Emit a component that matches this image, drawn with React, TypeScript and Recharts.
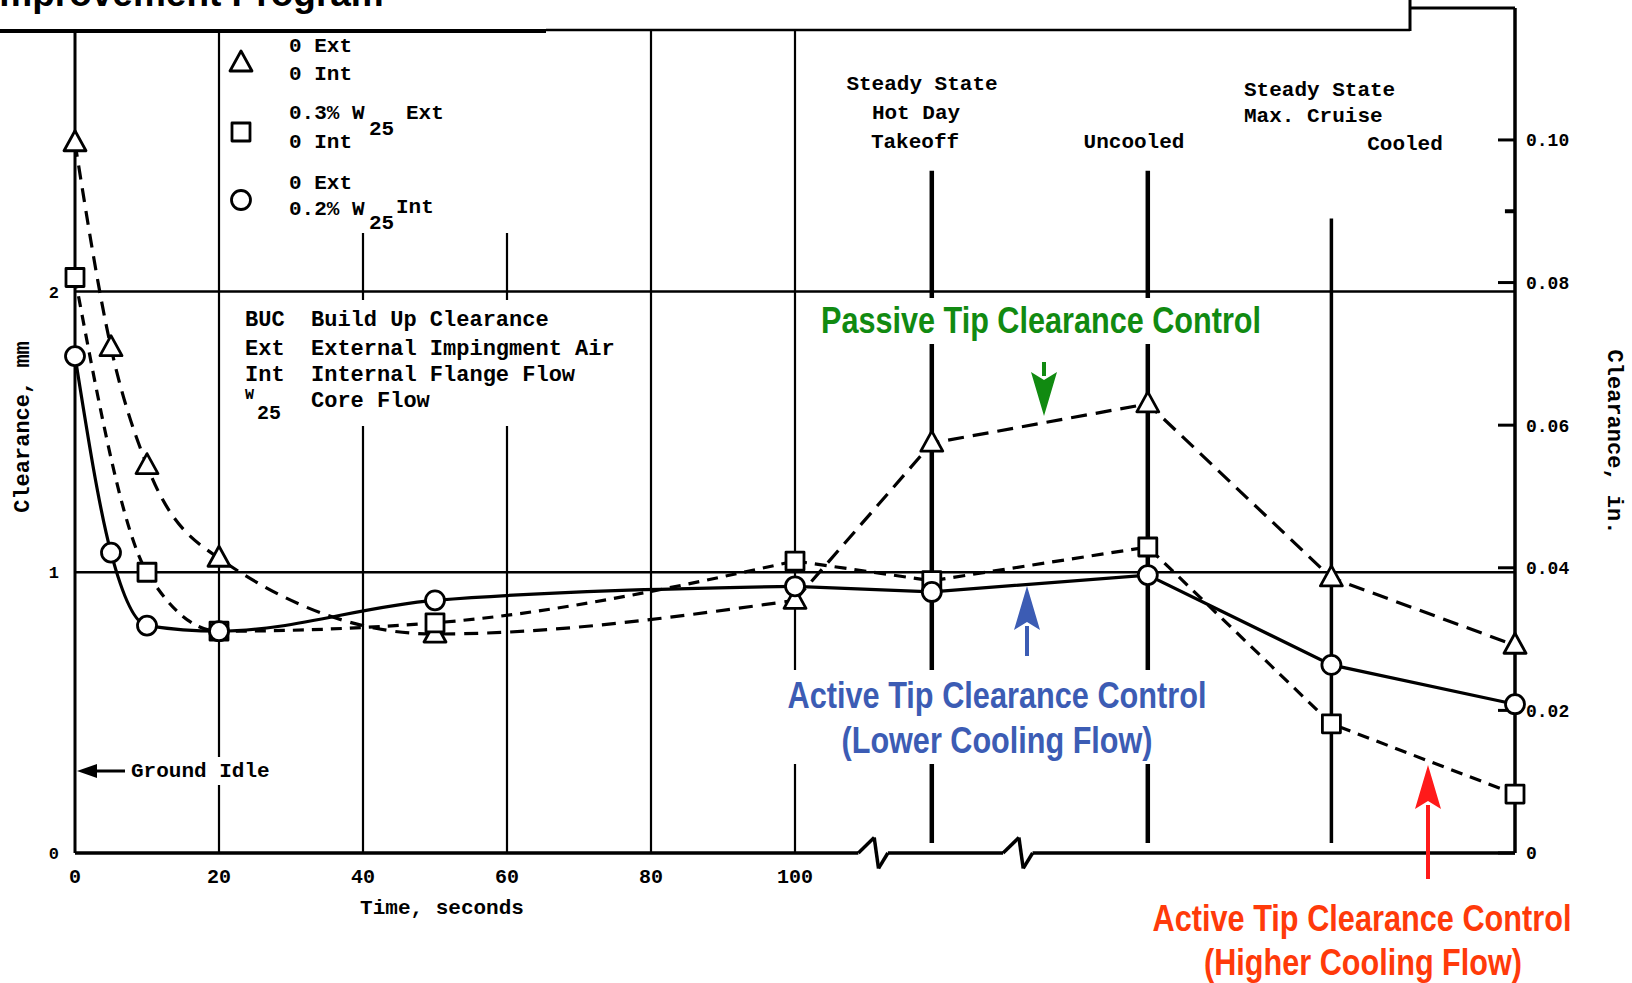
import React from 'react'
import { LineChart, Line, XAxis, YAxis, ReferenceLine } from 'recharts'

// time axis (seconds); the steady-state stations sit after the axis break
const TIME_TICKS = [0, 20, 40, 60, 80, 100]
const STATION_POS = [119, 149, 174.5, 200]

const MM_TICKS = [0, 1, 2]
const IN_TICKS = [0, 0.02, 0.04, 0.06, 0.08, 0.1]

// triangle: 0 Ext / 0 Int
const TRI_TIME = [0, 5, 10, 20, 50, 100]
const TRI_MM = [2.53, 1.8, 1.38, 1.05, 0.78, 0.9]
const TRI_STATION_MM = [1.46, 1.6, 0.98, 0.74]

// square: 0.3% W25 Ext / 0 Int
const SQ_TIME = [0, 10, 20, 50, 100]
const SQ_MM = [2.05, 1.0, 0.79, 0.82, 1.04]
const SQ_STATION_MM = [0.97, 1.09, 0.46, 0.21]

// circle: 0 Ext / 0.2% W25 Int
const CIR_TIME = [0, 5, 10, 20, 50, 100]
const CIR_MM = [1.77, 1.07, 0.81, 0.79, 0.9, 0.95]
const CIR_STATION_MM = [0.93, 0.99, 0.67, 0.53]

const W = 1632
const H = 983
const Y_MAX = 3.01
const IN_MAX = Y_MAX / 25.4

const MONO = "'Liberation Mono', 'DejaVu Sans Mono', monospace"
const NARROW = "'Liberation Sans Narrow', 'Liberation Sans', Arial, sans-serif"
const GREEN = '#118a11'
const BLUE = '#3c5cb4'
const RED = '#ff3a0a'

function transient(times: number[], vals: number[]) {
  return times.map((t, i) => ({ t, v: vals[i] }))
}

function steady(times: number[], vals: number[], stations: number[]) {
  const last = { t: times[times.length - 1], v: vals[vals.length - 1] }
  return [last, ...STATION_POS.map((t, i) => ({ t, v: stations[i] }))]
}

const triEarly = transient(TRI_TIME, TRI_MM)
const triLate = steady(TRI_TIME, TRI_MM, TRI_STATION_MM)
const sqEarly = transient(SQ_TIME, SQ_MM)
const sqLate = steady(SQ_TIME, SQ_MM, SQ_STATION_MM)
const cirEarly = transient(CIR_TIME, CIR_MM)
const cirLate = steady(CIR_TIME, CIR_MM, CIR_STATION_MM)

const triAll = [...triEarly, ...triLate.slice(1)]
const sqAll = [...sqEarly, ...sqLate.slice(1)]
const cirAll = [...cirEarly, ...cirLate.slice(1)]

function triPath(cx: number, cy: number) {
  return `M${cx},${cy - 12} L${cx + 11},${cy + 8} L${cx - 11},${cy + 8} Z`
}

const markStyle = { fill: '#fff', stroke: '#000', strokeWidth: 2.8, strokeLinejoin: 'round' as const }

function triDot(p: any) {
  return <path key={`tri-${p.index}`} d={triPath(p.cx, p.cy)} {...markStyle} />
}
function sqDot(p: any) {
  return <rect key={`sq-${p.index}`} x={p.cx - 9} y={p.cy - 9} width={18} height={18} {...markStyle} />
}
function cirDot(p: any) {
  return <circle key={`cir-${p.index}`} cx={p.cx} cy={p.cy} r={9.5} {...markStyle} />
}

// axis break zigzags (data units)
const BREAKS = [108.8, 128.9]
function baselineSegments() {
  const segs: { x: number; y: number }[][] = []
  let start = 0
  BREAKS.forEach(b => {
    segs.push([{ x: start, y: 0 }, { x: b, y: 0 }])
    segs.push([{ x: b, y: 0 }, { x: b + 2.2, y: 0.055 }])
    segs.push([{ x: b + 2.2, y: 0.055 }, { x: b + 2.8, y: -0.055 }])
    segs.push([{ x: b + 2.8, y: -0.055 }, { x: b + 4.1, y: 0 }])
    start = b + 4.1
  })
  segs.push([{ x: start, y: 0 }, { x: 200, y: 0 }])
  return segs
}

const tickFont = { fontFamily: MONO, fontWeight: 700, fontSize: 20, fill: '#000' }

export default function App() {
  return (
    <div style={styles.page}>
      <LineChart width={W} height={H} margin={{ top: 8, right: 0, bottom: 96, left: 0 }}>
        <XAxis
          type="number"
          dataKey="t"
          domain={[0, 200]}
          ticks={TIME_TICKS}
          axisLine={false}
          tickLine={false}
          tickSize={0}
          tickMargin={16}
          height={34}
          tick={tickFont}
        />
        <YAxis
          yAxisId="mm"
          type="number"
          domain={[0, Y_MAX]}
          ticks={MM_TICKS}
          width={75}
          axisLine={{ stroke: '#000', strokeWidth: 3 }}
          tickLine={false}
          tickSize={0}
          tickMargin={16}
          tick={{ ...tickFont, fontSize: 17 }}
        />
        <YAxis
          yAxisId="in"
          orientation="right"
          type="number"
          domain={[0, IN_MAX]}
          ticks={IN_TICKS}
          allowDataOverflow
          width={117}
          axisLine={{ stroke: '#000', strokeWidth: 3.5 }}
          tickLine={{ stroke: '#000', strokeWidth: 3 }}
          tickSize={-17}
          tickMargin={28}
          tick={{ ...tickFont, fontSize: 18 }}
          tickFormatter={(v: number) => (v === 0 ? '0' : v.toFixed(2))}
        />

        {/* frame top + gridlines */}
        <ReferenceLine yAxisId="mm" y={Y_MAX} stroke="#000" strokeWidth={3} ifOverflow="visible" />
        <ReferenceLine yAxisId="mm" y={1} stroke="#000" strokeWidth={2.5} />
        <ReferenceLine yAxisId="mm" y={2} stroke="#000" strokeWidth={2.5} />
        {TIME_TICKS.slice(1).map(t => (
          <ReferenceLine key={`g${t}`} yAxisId="mm" x={t} stroke="#000" strokeWidth={2.2} />
        ))}
        {STATION_POS.slice(0, 3).map((t, i) => (
          <ReferenceLine
            key={`s${t}`}
            yAxisId="mm"
            segment={[{ x: t, y: 0.036 }, { x: t, y: i < 2 ? 2.43 : 2.26 }]}
            stroke="#000"
            strokeWidth={i < 2 ? 4.5 : 3.5}
          />
        ))}
        {baselineSegments().map((seg, i) => (
          <ReferenceLine key={`b${i}`} yAxisId="mm" segment={seg} stroke="#000" strokeWidth={3.5} ifOverflow="visible" />
        ))}
        <ReferenceLine
          yAxisId="in"
          segment={[{ x: 198.6, y: 0.09 }, { x: 200, y: 0.09 }]}
          stroke="#000"
          strokeWidth={4}
        />

        {/* curves */}
        <Line data={triEarly} dataKey="v" yAxisId="mm" type="monotone" stroke="#000" strokeWidth={3.2} strokeDasharray="14 9" dot={false} activeDot={false} isAnimationActive={false} />
        <Line data={triLate} dataKey="v" yAxisId="mm" type="linear" stroke="#000" strokeWidth={3.2} strokeDasharray="16 9" dot={false} activeDot={false} isAnimationActive={false} />
        <Line data={sqEarly} dataKey="v" yAxisId="mm" type="monotone" stroke="#000" strokeWidth={3.2} strokeDasharray="11 8" dot={false} activeDot={false} isAnimationActive={false} />
        <Line data={sqLate} dataKey="v" yAxisId="mm" type="linear" stroke="#000" strokeWidth={3.2} strokeDasharray="12 8" dot={false} activeDot={false} isAnimationActive={false} />
        <Line data={cirEarly} dataKey="v" yAxisId="mm" type="monotone" stroke="#000" strokeWidth={3.2} dot={false} activeDot={false} isAnimationActive={false} />
        <Line data={cirLate} dataKey="v" yAxisId="mm" type="linear" stroke="#000" strokeWidth={3.2} dot={false} activeDot={false} isAnimationActive={false} />

        {/* markers on top */}
        <Line data={triAll} dataKey="v" yAxisId="mm" stroke="none" dot={triDot} activeDot={false} isAnimationActive={false} />
        <Line data={sqAll} dataKey="v" yAxisId="mm" stroke="none" dot={sqDot} activeDot={false} isAnimationActive={false} />
        <Line data={cirAll} dataKey="v" yAxisId="mm" stroke="none" dot={cirDot} activeDot={false} isAnimationActive={false} />
      </LineChart>
      <Overlay />
    </div>
  )
}

function T(props: { x: number; y: number; size?: number; anchor?: 'start' | 'middle' | 'end'; children: React.ReactNode; transform?: string }) {
  return (
    <text
      x={props.x}
      y={props.y}
      fontFamily={MONO}
      fontWeight={700}
      fontSize={props.size ?? 21}
      textAnchor={props.anchor ?? 'start'}
      dominantBaseline="central"
      transform={props.transform}
      fill="#000"
    >
      {props.children}
    </text>
  )
}

function Note(props: { x: number; y: number; len: number; color: string; children: string }) {
  return (
    <text
      x={props.x}
      y={props.y}
      fontFamily={NARROW}
      fontWeight={700}
      fontSize={37}
      textAnchor="middle"
      dominantBaseline="central"
      textLength={props.len}
      lengthAdjust="spacingAndGlyphs"
      fill={props.color}
    >
      {props.children}
    </text>
  )
}

function Arrow(props: { x: number; tip: number; tail: number; color: string; up?: boolean }) {
  const dir = props.up ? 1 : -1
  const base = props.tip + dir * 40
  return (
    <g>
      <line x1={props.x} y1={props.tail} x2={props.x} y2={base} stroke={props.color} strokeWidth={4} />
      <polygon
        points={`${props.x},${props.tip} ${props.x - 13},${base + dir * 4} ${props.x},${base - dir * 4} ${props.x + 13},${base + dir * 4}`}
        fill={props.color}
      />
    </g>
  )
}

function Overlay() {
  return (
    <svg width={W} height={H} style={styles.overlay}>
      {/* title box */}
      <rect x={-4} y={-4} width={1414} height={35} fill="#fff" />
      <text x={-11} y={6} fontFamily="'Liberation Sans', Arial, sans-serif" fontWeight={700} fontSize={37} fill="#000">
        Improvement Program
      </text>
      <line x1={0} y1={31} x2={546} y2={31} stroke="#000" strokeWidth={4} />
      <line x1={546} y1={30} x2={1410} y2={30} stroke="#000" strokeWidth={2.5} />
      <line x1={1410} y1={0} x2={1410} y2={31} stroke="#000" strokeWidth={3} />

      {/* symbol legend */}
      <rect x={228} y={33} width={318} height={200} fill="#fff" />
      <path d={triPath(241, 63)} {...markStyle} />
      <rect x={232} y={123} width={18} height={18} {...markStyle} />
      <circle cx={241} cy={200} r={9.5} {...markStyle} />
      <T x={289} y={46}>0 Ext</T>
      <T x={289} y={74}>0 Int</T>
      <T x={289} y={113}>0.3% W</T>
      <T x={369} y={129}>25</T>
      <T x={406} y={113}>Ext</T>
      <T x={289} y={142}>0 Int</T>
      <T x={289} y={183}>0 Ext</T>
      <T x={289} y={209}>0.2% W</T>
      <T x={369} y={223}>25</T>
      <T x={396} y={207}>Int</T>

      {/* abbreviations */}
      <rect x={236} y={300} width={392} height={126} fill="#fff" />
      <T x={245} y={320} size={22}>BUC</T>
      <T x={311} y={320} size={22}>Build Up Clearance</T>
      <T x={245} y={349} size={22}>Ext</T>
      <T x={311} y={349} size={22}>External Impingment Air</T>
      <T x={245} y={375} size={22}>Int</T>
      <T x={311} y={375} size={22}>Internal Flange Flow</T>
      <T x={245} y={395} size={15}>W</T>
      <T x={257} y={413} size={20}>25</T>
      <T x={311} y={401} size={22}>Core Flow</T>

      {/* ground idle */}
      <rect x={128} y={757} width={152} height={28} fill="#fff" />
      <line x1={125} y1={771} x2={90} y2={771} stroke="#000" strokeWidth={3} />
      <polygon points="77,771 97,764 97,778" fill="#000" />
      <T x={131} y={771}>Ground Idle</T>

      {/* station labels */}
      <T x={922} y={84} anchor="middle">Steady State</T>
      <T x={916} y={113} anchor="middle">Hot Day</T>
      <T x={915} y={142} anchor="middle">Takeoff</T>
      <T x={1134} y={142} anchor="middle">Uncooled</T>
      <T x={1244} y={90}>Steady State</T>
      <T x={1244} y={116}>Max. Cruise</T>
      <T x={1405} y={144} anchor="middle">Cooled</T>

      {/* axis titles */}
      <T x={442} y={908} anchor="middle">Time, seconds</T>
      <T x={23} y={427} size={22} anchor="middle" transform="rotate(-90 23 427)">Clearance, mm</T>
      <T x={1613} y={442} size={22} anchor="middle" transform="rotate(90 1613 442)">Clearance, in.</T>

      {/* callouts */}
      <rect x={818} y={298} width={446} height={46} fill="#fff" />
      <Note x={1041} y={320} len={440} color={GREEN}>Passive Tip Clearance Control</Note>
      <Arrow x={1044} tip={416} tail={362} color={GREEN} />

      <rect x={784} y={670} width={428} height={94} fill="#fff" />
      <Note x={997} y={695} len={419} color={BLUE}>Active Tip Clearance Control</Note>
      <Note x={997} y={740} len={311} color={BLUE}>(Lower Cooling Flow)</Note>
      <Arrow x={1027} tip={586} tail={656} color={BLUE} up />

      <Note x={1362} y={918} len={419} color={RED}>Active Tip Clearance Control</Note>
      <Note x={1363} y={962} len={318} color={RED}>(Higher Cooling Flow)</Note>
      <Arrow x={1428} tip={765} tail={879} color="#ff1a1a" up />
    </svg>
  )
}

const styles = {
  page: {
    position: 'absolute' as const,
    left: 0,
    top: 0,
    width: W,
    height: H,
    background: '#fff',
    overflow: 'hidden' as const,
  },
  overlay: {
    position: 'absolute' as const,
    left: 0,
    top: 0,
    pointerEvents: 'none' as const,
  },
}
